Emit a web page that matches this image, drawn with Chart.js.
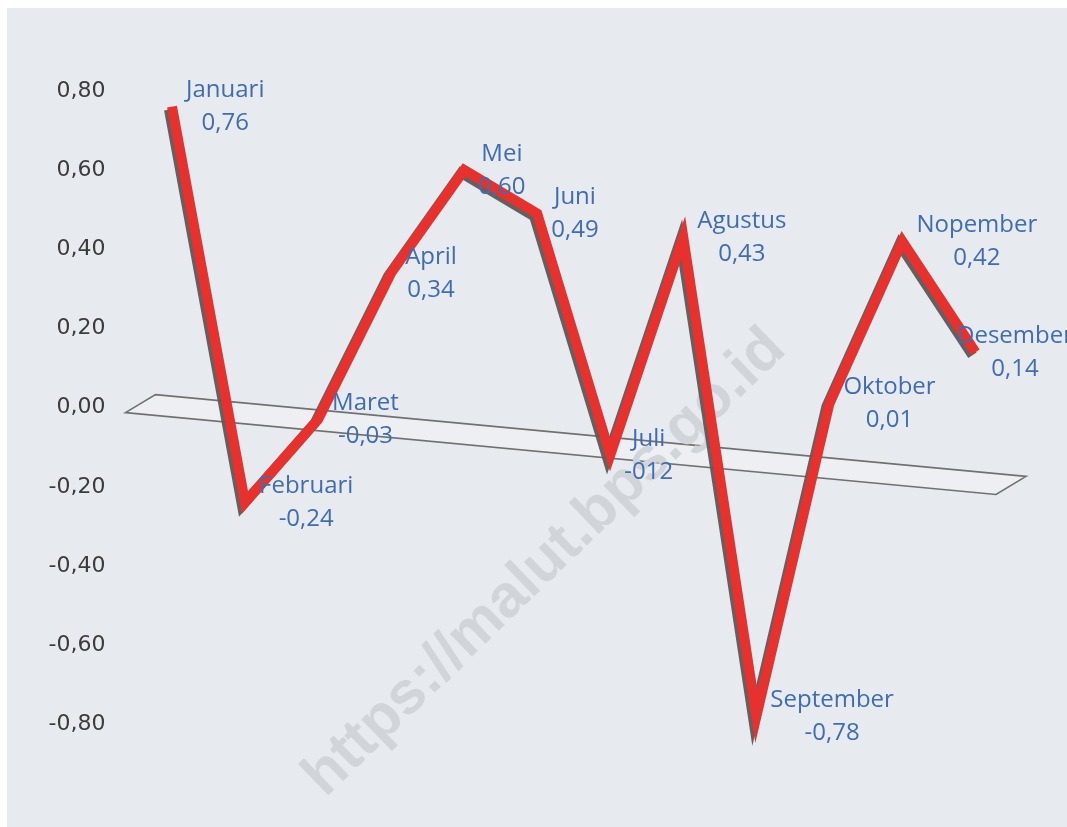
<!DOCTYPE html>
<html>
<head>
<meta charset="utf-8">
<script src="https://cdn.jsdelivr.net/npm/chart.js@4.4.1/dist/chart.umd.min.js"></script>
<style>
    html, body { margin: 0; padding: 0; background: #ffffff; }
    #wrap { position: absolute; left: 7px; top: 8px; width: 1060px; height: 819px; background: #e7eaee; }
</style>
</head>
<body>
<div id="wrap"><canvas id="inflasiChart" width="1060" height="819"></canvas></div>
<script>
// Data
const months = ['Januari', 'Februari', 'Maret', 'April', 'Mei', 'Juni', 'Juli', 'Agustus', 'September', 'Oktober', 'Nopember', 'Desember'];
const inflasi = [0.76, -0.24, -0.03, 0.34, 0.60, 0.49, -0.12, 0.43, -0.78, 0.01, 0.42, 0.14];
const valueText = ['0,76', '-0,24', '-0,03', '0,34', '0,60', '0,49', '-012', '0,43', '-0,78', '0,01', '0,42', '0,14'];
const yTicks = [-0.8, -0.6, -0.4, -0.2, 0, 0.2, 0.4, 0.6, 0.8];

const labelColor = '#3f6db0';

// slanted zero "floor" like the 3D chart in Excel
const floorPlane = {
    id: 'floorPlane',
    beforeDatasetsDraw(chart) {
        const { ctx, chartArea } = chart;
        const y0 = chart.scales.y.getPixelForValue(0);
        const slant = 0.094;
        const x1 = chartArea.left - 10, x2 = chartArea.right - 16;
        const y1 = y0 + 5, y2 = y1 + (x2 - x1) * slant;
        ctx.save();
        ctx.beginPath();
        ctx.moveTo(x1, y1);
        ctx.lineTo(x1 + 30, y1 - 18);
        ctx.lineTo(x2 + 30, y2 - 18);
        ctx.lineTo(x2, y2);
        ctx.closePath();
        ctx.fillStyle = 'rgba(255,255,255,0.25)';
        ctx.fill();
        ctx.strokeStyle = '#707070';
        ctx.lineWidth = 1.6;
        ctx.stroke();
        ctx.restore();
    }
};

// watermark text
const watermark = {
    id: 'watermark',
    beforeDatasetsDraw(chart) {
        const ctx = chart.ctx;
        ctx.save();
        ctx.translate(538, 555);
        ctx.rotate(-44 * Math.PI / 180);
        ctx.font = 'bold 60px "Liberation Sans", Arial, sans-serif';
        ctx.fillStyle = '#d1d5d9';
        ctx.textAlign = 'center';
        ctx.textBaseline = 'middle';
        ctx.fillText('https://malut.bps.go.id', 0, 0);
        ctx.restore();
    }
};

// gray side of the ribbon
const ribbonShadow = {
    id: 'ribbonShadow',
    beforeDatasetDraw(chart) {
        const ctx = chart.ctx;
        ctx.save();
        ctx.shadowColor = 'rgba(90,90,90,0.95)';
        ctx.shadowOffsetX = -3;
        ctx.shadowOffsetY = 3;
        ctx.shadowBlur = 0;
    },
    afterDatasetDraw(chart) {
        chart.ctx.restore();
    }
};

// month name + value next to each point
const pointLabels = {
    id: 'pointLabels',
    afterDatasetsDraw(chart) {
        const ctx = chart.ctx;
        const meta = chart.getDatasetMeta(0);
        ctx.save();
        ctx.font = '24px "Open Sans", sans-serif';
        ctx.fillStyle = labelColor;
        ctx.textAlign = 'center';
        ctx.textBaseline = 'middle';
        meta.data.forEach(function (pt, i) {
            const w = Math.max(ctx.measureText(months[i]).width, ctx.measureText(valueText[i]).width);
            let left = pt.x + 14;
            if (left + w > chart.width + 6) left = chart.width + 6 - w;
            const cx = left + w / 2;
            ctx.fillText(months[i], cx, pt.y - 16);
            ctx.fillText(valueText[i], cx, pt.y + 17);
        });
        ctx.restore();
    }
};

new Chart(document.getElementById('inflasiChart').getContext('2d'), {
    type: 'line',
    data: {
        labels: months,
        datasets: [{
            data: inflasi,
            borderColor: '#e8312c',
            borderWidth: 10,
            borderJoinStyle: 'miter',
            borderCapStyle: 'butt',
            pointRadius: 0,
            tension: 0,
            clip: false
        }]
    },
    options: {
        responsive: false,
        animation: false,
        layout: { padding: { top: 29, bottom: 38, left: 0, right: 55 } },
        scales: {
            x: {
                display: false,
                offset: true
            },
            y: {
                min: -0.95,
                max: 0.9,
                afterBuildTicks: function (scale) {
                    scale.ticks = yTicks.map(function (v) { return { value: v }; });
                },
                afterFit: function (scale) { scale.width = 128.5; },
                grid: { display: false, drawTicks: false },
                border: { display: false },
                ticks: {
                    padding: 30,
                    color: '#3c3c3c',
                    font: { family: '"DejaVu Sans", Verdana, sans-serif', size: 22 },
                    callback: function (v) { return v.toFixed(2).replace('.', ','); }
                }
            }
        },
        plugins: {
            legend: { display: false },
            tooltip: { enabled: false }
        }
    },
    plugins: [floorPlane, watermark, ribbonShadow, pointLabels]
});
</script>
</body>
</html>
